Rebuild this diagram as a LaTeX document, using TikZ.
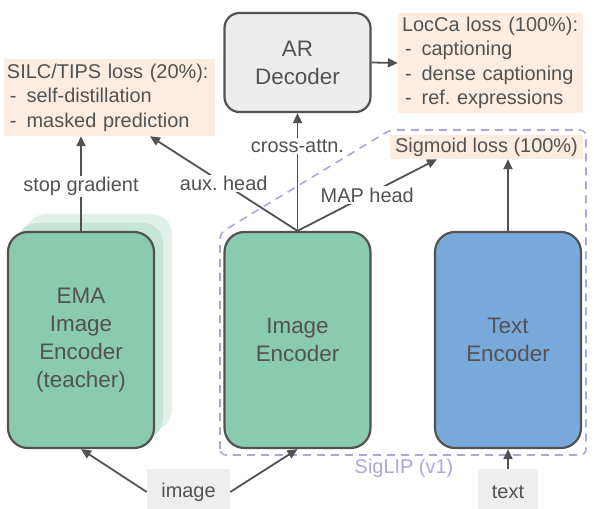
\documentclass[tikz,border=0pt]{standalone}
\usepackage{fontspec}
\setmainfont{Liberation Sans}
\usetikzlibrary{arrows.meta}
\definecolor{ink}{HTML}{525252}
\definecolor{encgreen}{HTML}{8ACAAF}
\definecolor{shadeA}{HTML}{C6E5D6}
\definecolor{shadeB}{HTML}{DFF1E8}
\definecolor{encblue}{HTML}{79A9DA}
\definecolor{argray}{HTML}{EDEDED}
\definecolor{peach}{HTML}{FDEDE1}
\definecolor{lav}{HTML}{AEA6DA}
\definecolor{labgray}{HTML}{EEEEEE}
\tikzset{
  encbox/.style={draw=ink, line width=2.2bp, rounded corners=20bp, minimum width=146bp, minimum height=216bp, inner sep=0pt, align=center, text=ink, font=\fontsize{22.5}{28}\selectfont},
  shadebox/.style={rounded corners=20bp, minimum width=146bp, minimum height=216bp, inner sep=0pt},
  lossbox/.style={fill=peach, inner ysep=0pt, align=left, text=ink, font=\fontsize{20}{24.5}\selectfont},
  inbox/.style={fill=labgray, inner sep=0pt, text=ink, font=\fontsize{20}{24}\selectfont},
  lbl/.style={fill=white, inner sep=1.5bp, text=ink, font=\fontsize{20}{24}\selectfont},
  arr/.style={draw=ink, line width=1.8bp, -{Triangle[length=10bp,width=9bp]}},
}
\begin{document}
\begin{tikzpicture}[x=1bp,y=-1bp]
\useasboundingbox (0,0) rectangle (594,509);
% SigLIP region
\draw[lav, line width=1.6bp, dash pattern=on 8bp off 6bp, rounded corners=6bp]
  (220,455) -- (220,233) -- (390,130) -- (586,130) -- (586,455) -- cycle;
\node[text=lav, font=\fontsize{20}{24}\selectfont] (sl) at (404,468) {SigLIP (v1)};
% loss boxes
\node[lossbox, text width=205bp, inner xsep=3bp, minimum height=77bp] (silc) at (109.5,97.5)
  {SILC/TIPS loss (20\%):\\\hspace*{3bp}-\hspace{10bp}self-distillation\\\hspace*{3bp}-\hspace{10bp}masked prediction};
\node[lossbox, text width=177bp, inner xsep=4bp, minimum height=100bp] (locca) at (490.5,63)
  {LocCa loss (100\%):\\\hspace*{3bp}-\hspace{10bp}captioning\\\hspace*{3bp}-\hspace{10bp}dense captioning\\\hspace*{3bp}-\hspace{10bp}ref.\ expressions};
\node[lossbox, align=center, minimum width=193bp, minimum height=24bp, inner xsep=0pt] (sig) at (486.5,147) {Sigmoid loss (100\%)};
% encoders
\node[shadebox, fill=shadeB] (ema3) at (99,322) {};
\node[shadebox, fill=shadeA] (ema2) at (90,331) {};
\node[encbox, fill=encgreen] (ema) at (81,340) {EMA\\Image\\Encoder\\(teacher)};
\node[encbox, fill=encgreen] (ienc) at (297.5,340) {Image\\Encoder};
\node[encbox, fill=encblue] (tenc) at (508,340) {Text\\Encoder};
\node[encbox, fill=argray, rounded corners=15bp, minimum height=99bp] (ar) at (297.5,62.5) {AR\\Decoder};
% inputs
\node[inbox, minimum width=83bp, minimum height=46bp] (img) at (188.5,492) {image};
\node[inbox, minimum width=60bp, minimum height=46bp] (txt) at (508,492) {text};
% connectors
\draw[arr] (img.west) -- (ema.south);
\draw[arr] (img.east) -- (ienc.south);
\draw[arr] (txt.north) -- (tenc.south);
\draw[arr] (ema.north) -- node[lbl, pos=0.47] {stop gradient} (ema.north |- silc.south);
\draw[arr] (ienc.north) -- node[lbl, pos=0.5] {aux.\ head} ([xshift=40.5bp]silc.south);
\draw[arr] (ienc.north) -- node[lbl, pos=0.72] {cross-attn.} (ar.south);
\draw[arr] (ienc.north) -- node[lbl, pos=0.5] {MAP head} ([xshift=-49.5bp]sig.south);
\draw[arr] (tenc.north) -- (tenc.north |- sig.south);
\draw[arr] (ar.east) -- (locca.west);
\end{tikzpicture}
\end{document}
